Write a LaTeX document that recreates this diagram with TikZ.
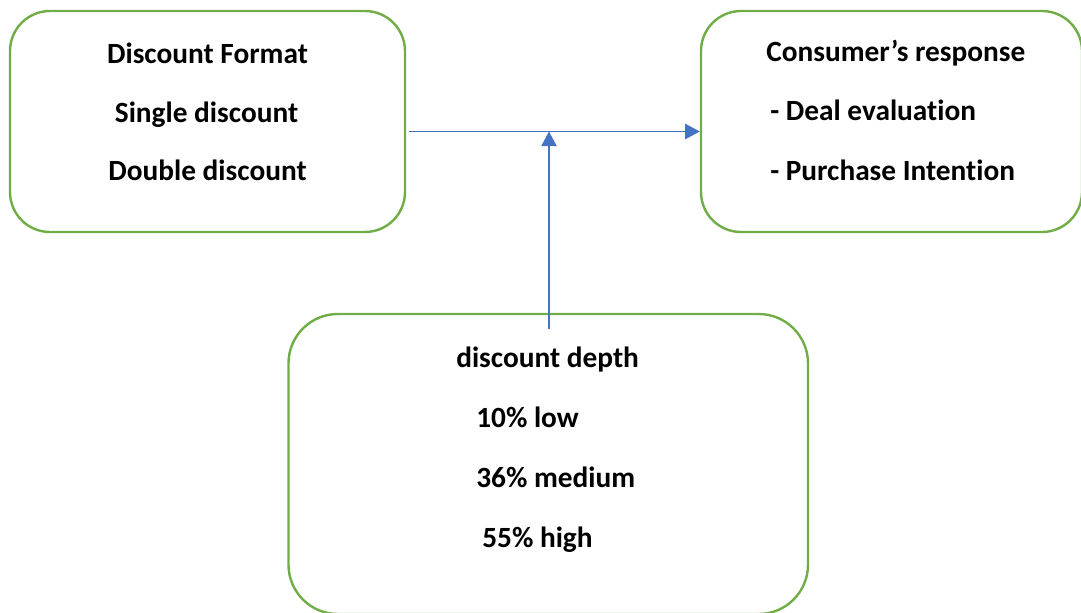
\documentclass[tikz,border=0pt]{standalone}
\usepackage{fontspec}
\setmainfont{Carlito}[Ligatures={NoCommon}]
\usetikzlibrary{arrows.meta}
\definecolor{boxgreen}{HTML}{70AD47}
\definecolor{lineblue}{HTML}{4472C4}
\tikzset{
  px/.style={x=0.75pt,y=-0.75pt},
  greenbox/.style={draw=boxgreen,line width=1.8pt,fill=none},
  label/.style={inner sep=0pt,font=\fontsize{22pt}{26pt}\selectfont\bfseries},
  connector/.style={draw=lineblue,line width=1.1pt,-{Triangle[length=11pt,width=11.5pt]}}
}
\begin{document}
\begin{tikzpicture}[px]
\useasboundingbox (0,0) rectangle (1081,612);
\clip (0,0) rectangle (1081,612);
% boxes
\node[greenbox,rounded corners=30pt,minimum width=395*0.75pt,minimum height=221*0.75pt,inner sep=0pt] (box1) at (207.5,121.5) {};
\node[greenbox,rounded corners=30pt,minimum width=381*0.75pt,minimum height=221*0.75pt,inner sep=0pt] (box2) at (891.5,121.5) {};
\node[greenbox,rounded corners=37pt,minimum width=519.5*0.75pt,minimum height=300*0.75pt,inner sep=0pt] (box3) at (548.25,464) {};
% texts box1
\node[label,anchor=base] (t1a) at (207.5,63) {Discount Format};
\node[label,anchor=base] (t1b) at (206.5,122.5) {Single discount};
\node[label,anchor=base] (t1c) at (207.5,180) {Double discount};
% texts box2
\node[label,anchor=base west] (t2a) at (766,61) {Consumer’s response};
\node[label,anchor=base west] (t2b) at (770,120.5) {- Deal evaluation};
\node[label,anchor=base west] (t2c) at (770,180.5) {- Purchase Intention};
% texts box3
\node[label,anchor=base west] (t3a) at (456,367) {discount depth};
\node[label,anchor=base west] (t3b) at (476,427) {10\% low};
\node[label,anchor=base west] (t3c) at (476,487) {36\% medium};
\node[label,anchor=base west] (t3d) at (482,547) {55\% high};
% connectors
\coordinate (hstart) at (409,131.5);
\coordinate (vstart) at (549,329);
\draw[connector] (hstart) -- (hstart -| box2.west);
\draw[connector] (vstart) -- (vstart |- hstart);
\end{tikzpicture}
\end{document}
